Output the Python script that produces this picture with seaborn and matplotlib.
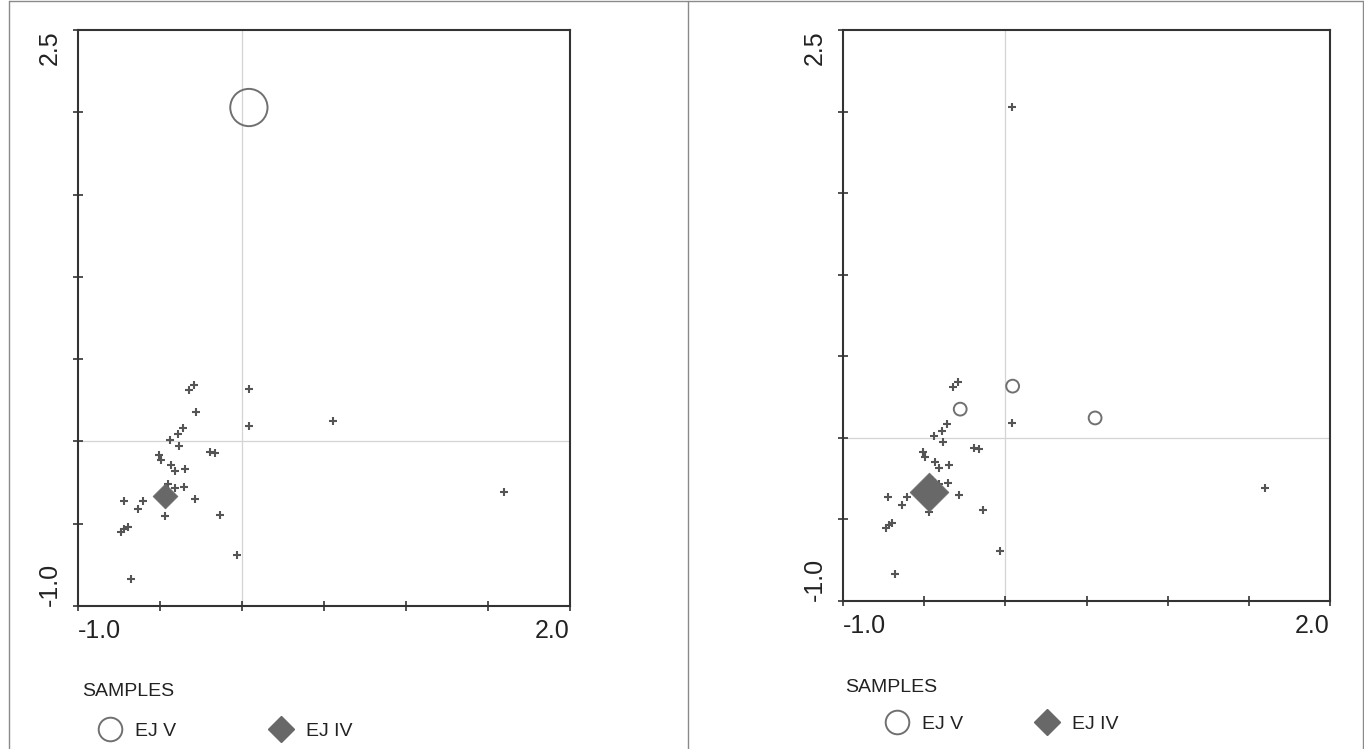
import numpy as np
import pandas as pd
import seaborn as sns
import matplotlib.pyplot as plt
from matplotlib.lines import Line2D

# Species scores on the first two ordination axes
species_x = [-0.321, -0.292, 0.045, -0.278, 0.040, -0.358, -0.388, -0.437, -0.386,
             -0.195, -0.162, -0.506, -0.492, -0.435, -0.345, -0.409, -0.449, -0.407,
             -0.354, -0.472, -0.720, -0.606, -0.635, -0.288, -0.470, -0.135, -0.697,
             -0.718, -0.738, -0.030, -0.679, 0.553, 1.600, 0.042]
species_y = [0.313, 0.344, 0.317, 0.176, 0.091, 0.083, 0.043, 0.010, -0.027,
             -0.065, -0.069, -0.085, -0.115, -0.146, -0.165, -0.182, -0.257, -0.281,
             -0.277, -0.332, -0.365, -0.360, -0.410, -0.348, -0.454, -0.445, -0.521,
             -0.535, -0.553, -0.691, -0.835, 0.122, -0.310, 2.029]

# Species carrying each sample symbol, per panel
ejv_left = [33]
ejiv_left = [19]
ejv_right = [2, 3, 31]
ejiv_right = [19]

x_ticks = [-1.0, -0.5, 0.0, 0.5, 1.0, 1.5, 2.0]
y_ticks = [-1.0, -0.5, 0.0, 0.5, 1.0, 1.5, 2.0, 2.5]
x_labels = ['-1.0', '', '', '', '', '', '2.0']
y_labels = ['-1.0', '', '', '', '', '', '', '2.5']
legend_title = 'SAMPLES'
legend_labels = ['EJ V', 'EJ IV']

sns.set_theme(style='white')
plt.rcParams['font.family'] = ['Liberation Sans', 'DejaVu Sans']

W, H = 1364, 749
fig = plt.figure(figsize=(W / 100, H / 100), dpi=100)
fig.patch.set_facecolor('white')


def px_rect(l, t, r, b):
    return [l / W, 1 - b / H, (r - l) / W, (b - t) / H]


ax1 = fig.add_axes(px_rect(78, 30, 570, 606))
ax2 = fig.add_axes(px_rect(843, 30, 1330, 601))

df = pd.DataFrame({'x': species_x, 'y': species_y})

INK = '#333333'
MARK = '#555555'
CIRCLE = '#707070'
DIAMOND = '#686868'


def draw_panel(ax, ejv, ejiv, circle_s, diamond_s):
    ax.axvline(0, color='#d4d4d4', lw=0.9, zorder=0)
    ax.axhline(0, color='#d4d4d4', lw=0.9, zorder=0)
    plain = df.drop(index=ejv + ejiv)
    sns.scatterplot(data=plain, x='x', y='y', marker='+', s=34, color=MARK,
                    linewidth=1.5, ax=ax, zorder=3, legend=False)
    sns.scatterplot(data=df.loc[ejv], x='x', y='y', marker='o', s=circle_s,
                    color=CIRCLE, facecolor='none', edgecolor=CIRCLE,
                    linewidth=1.4, ax=ax, zorder=4, legend=False)
    sns.scatterplot(data=df.loc[ejiv], x='x', y='y', marker='D', s=diamond_s,
                    color=DIAMOND, edgecolor=DIAMOND, linewidth=0.5,
                    ax=ax, zorder=4, legend=False)

    ax.set_xlim(-1.0, 2.0)
    ax.set_ylim(-1.0, 2.5)
    ax.set_xlabel('')
    ax.set_ylabel('')
    ax.set_xticks(x_ticks, x_labels)
    ax.set_yticks(y_ticks, y_labels)
    for sp in ax.spines.values():
        sp.set_visible(True)
        sp.set_color(INK)
        sp.set_linewidth(1.5)
    ax.tick_params(axis='both', which='both', direction='inout', length=7,
                   width=1.2, color=INK, labelsize=18, labelcolor='#222222',
                   bottom=True, left=True, top=False, right=False)
    ax.tick_params(axis='x', pad=6)
    ax.tick_params(axis='y', pad=8, labelrotation=90)
    xl = ax.get_xticklabels()
    xl[0].set_horizontalalignment('left')
    xl[-1].set_horizontalalignment('right')
    yl = ax.get_yticklabels()
    yl[0].set_verticalalignment('bottom')
    yl[-1].set_verticalalignment('top')


draw_panel(ax1, ejv_left, ejiv_left, circle_s=720, diamond_s=160)
draw_panel(ax2, ejv_right, ejiv_right, circle_s=85, diamond_s=390)

# Sample legends below each panel
handles = [
    Line2D([], [], ls='none', marker='o', ms=17, mfc='none', mec=CIRCLE, mew=1.4),
    Line2D([], [], ls='none', marker='D', ms=13.5, mfc=DIAMOND, mec=DIAMOND),
]
legend_spots = [(82, 692, 98, 731, 4.8), (845, 688, 885, 724, 3.7)]
for title_x, title_y, leg_x, leg_y, colsp in legend_spots:
    fig.text(title_x / W, 1 - title_y / H, legend_title, fontsize=14,
             color='#222222', ha='left', va='center')
    fig.legend(handles, legend_labels, loc='center left',
               bbox_to_anchor=(leg_x / W, 1 - leg_y / H), ncol=2, frameon=False,
               fontsize=14, handlelength=1.2, handletextpad=0.7,
               columnspacing=colsp, borderpad=0, borderaxespad=0,
               labelcolor='#222222')

# Table-style frame around the two panels
for x0, y0, x1, y1 in [(9, 0.5, 9, H), (688, 0.5, 688, H), (W - 1.5, 0.5, W - 1.5, H),
                       (9, 0.8, W - 1, 0.8)]:
    fig.add_artist(Line2D([x0 / W, x1 / W], [1 - y0 / H, 1 - y1 / H],
                          transform=fig.transFigure, color='#8a8a8a', lw=1.0))

fig.savefig('out.png', dpi=100, facecolor='white')
